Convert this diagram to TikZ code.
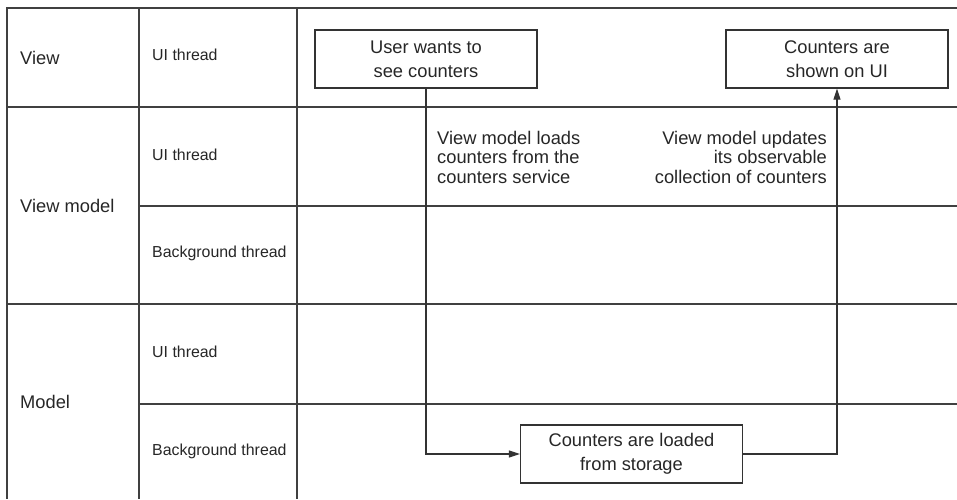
\documentclass[tikz,border=0pt]{standalone}
\usepackage{fontspec}
\setmainfont{Liberation Sans}
\usetikzlibrary{arrows.meta}

\begin{document}
\begin{tikzpicture}[x=1pt, y=-1pt,
    grid/.style={line width=1.4pt, draw=black!75},
    stepbox/.style={draw=black!80, line width=1.2pt, minimum width=222pt, minimum height=58pt, align=center, text=black!85, font=\fontsize{18.3}{24}\selectfont},
    lane/.style={anchor=west, inner sep=0pt, text=black!85, font=\fontsize{18.3}{22}\selectfont},
    thread/.style={anchor=west, inner sep=0pt, text=black!85, font=\fontsize{15.9}{19}\selectfont},
    note/.style={inner sep=0pt, text=black!85, font=\fontsize{18.3}{19.5}\selectfont},
    flow/.style={line width=1.2pt, draw=black!80, -{Triangle[length=11pt, width=7pt]}}]
        \useasboundingbox (0,0) rectangle (957,499);

        % table frame and columns
        \draw[grid] (957,8) -- (7,8) -- (7,499);
        \draw[grid] (139,8) -- (139,499);
        \draw[grid] (297,8) -- (297,499);

        % rows
        \draw[grid] (7,107) -- (957,107);
        \draw[grid] (7,304) -- (957,304);
        \draw[grid] (139,206) -- (957,206);
        \draw[grid] (139,404) -- (957,404);

        % layers
        \node[lane] (view) at (20,58) {View};
        \node[lane] (viewmodel) at (20,206) {View model};
        \node[lane] (model) at (20,402) {Model};

        % threads
        \node[thread] (viewui) at (152,55) {UI thread};
        \node[thread] (vmui) at (152,155) {UI thread};
        \node[thread] (vmbg) at (152,253) {Background thread};
        \node[thread] (modelui) at (152,352) {UI thread};
        \node[thread] (modelbg) at (152,451) {Background thread};

        % steps
        \node[stepbox] (wants) at (426,59) {User wants to\\see counters};
        \node[stepbox] (shown) at (837,59) {Counters are\\shown on UI};
        \node[stepbox] (loaded) at (631.5,454) {Counters are loaded\\from storage};

        % flow
        \draw[flow] (wants.south) |- (loaded.west);
        \draw[flow] (loaded.east) -| (shown.south);

        \node[note, anchor=north west, align=left] (loadnote) at (437,131) {View model loads\\counters from the\\counters service};
        \node[note, anchor=north east, align=right] (updatenote) at (827,131) {View model updates\\its observable\\collection of counters};

    \end{tikzpicture}
\end{document}
